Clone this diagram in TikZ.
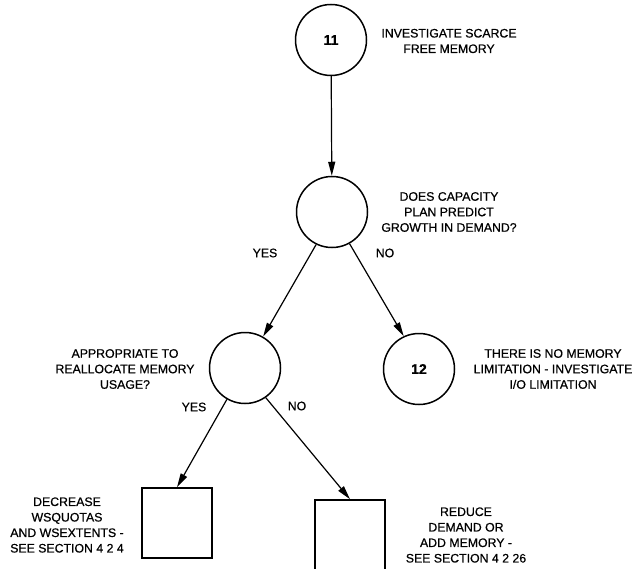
\documentclass[tikz,border=0pt]{standalone}
\usepackage{fontspec}
\setmainfont{Liberation Sans}[FakeBold=0.6]
\usetikzlibrary{arrows.meta}
\begin{document}
\begin{tikzpicture}[x=1pt,y=-1pt,
  circ/.style={draw,circle,line width=1.5pt,minimum size=71pt,inner sep=0pt,font=\fontsize{14}{16}\selectfont\bfseries},
  boxnode/.style={draw,rectangle,line width=1.5pt,minimum width=70pt,minimum height=70pt,inner sep=0pt},
  lbl/.style={align=center,font=\fontsize{12.3}{15.5}\selectfont,inner sep=0pt},
  conn/.style={line width=1.2pt,-{Triangle[length=14pt,width=7pt]}}]
\useasboundingbox (0,0) rectangle (639,569);
\node[circ] (n11) at (331,40) {11};
\node[circ] (q1) at (332,212) {};
\node[circ] (q2) at (245,368) {};
\node[circ] (n12) at (419,369) {12};
\node[boxnode] (b1) at (177,523) {};
\node[boxnode] (b2) at (350,535) {};
\node[lbl] (t11) at (449,41) {INVESTIGATE SCARCE\\FREE MEMORY};
\node[lbl] (tq1) at (449,212) {DOES CAPACITY\\PLAN PREDICT\\GROWTH IN DEMAND?};
\node[lbl] (tq2) at (125,369) {APPROPRIATE TO\\REALLOCATE MEMORY\\USAGE?};
\node[lbl] (t12) at (553,369) {THERE IS NO MEMORY\\LIMITATION - INVESTIGATE\\I/O LIMITATION};
\node[lbl] (tb1) at (67,525) {DECREASE\\WSQUOTAS\\AND WSEXTENTS -\\SEE SECTION 4 2 4};
\node[lbl] (tb2) at (466,535) {REDUCE\\DEMAND OR\\ADD MEMORY -\\SEE SECTION 4 2 26};
\node[lbl] (y1) at (265,253) {YES};
\node[lbl] (no1) at (385,253) {NO};
\node[lbl] (y2) at (194,407) {YES};
\node[lbl] (no2) at (297,406) {NO};
\draw[conn] (n11) -- (q1);
\draw[conn] (q1.244) -- (q2.60);
\draw[conn] (q1.299) -- (n12.115);
\draw[conn] (q2.240) -- (b1.north);
\draw[conn] (q2.305) -- (b2.north);
\end{tikzpicture}
\end{document}
